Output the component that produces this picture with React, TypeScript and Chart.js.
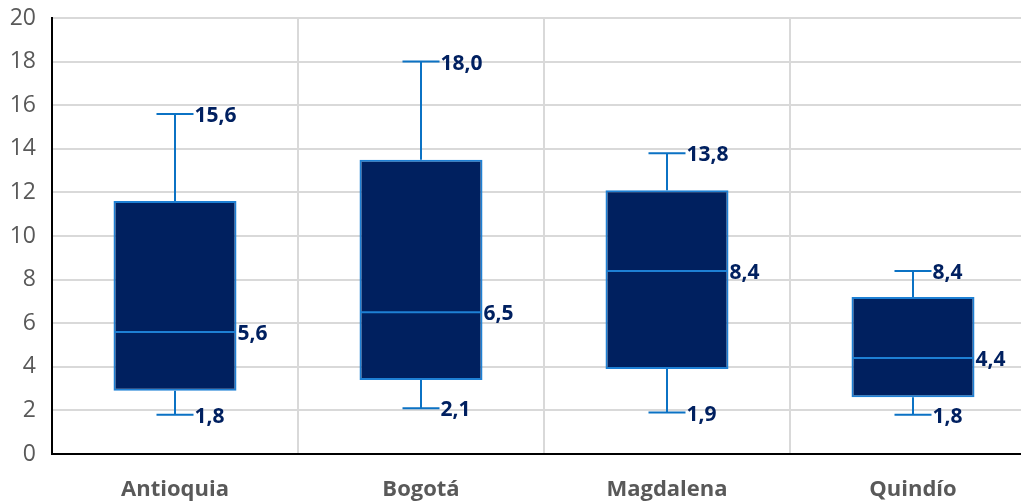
import React, { useEffect, useRef } from "react";
import { Chart, registerables } from "chart.js";

Chart.register(...registerables);

const categories = ["Antioquia", "Bogotá", "Magdalena", "Quindío"];
const minValues = [1.8, 2.1, 1.9, 1.8];
const q1Values = [2.9, 3.4, 3.9, 2.6];
const medianValues = [5.6, 6.5, 8.4, 4.4];
const q3Values = [11.6, 13.5, 12.1, 7.2];
const maxValues = [15.6, 18.0, 13.8, 8.4];
const yMin = 0;
const yMax = 20;
const yStep = 2;

const FONT = "'Open Sans', 'Noto Sans', sans-serif";
const BOX_FILL = "#00205F";
const BOX_BORDER = "#1E80D4";
const WHISKER = "#0B72C4";
const LABEL = "#002060";
const AXIS_TEXT = "#595959";

const fmt = (v: number) => v.toFixed(1).replace(".", ",");

const boxPlugin = {
  id: "boxWhiskers",
  afterDatasetsDraw(chart: any) {
    const ctx = chart.ctx;
    const x = chart.scales.x;
    const y = chart.scales.y;
    const meta = chart.getDatasetMeta(0);
    ctx.save();
    categories.forEach((_, i) => {
      const bar = meta.data[i];
      const cx = x.getPixelForValue(i);
      const half = bar.width / 2;
      const capHalf = 18.5;
      const yMaxP = y.getPixelForValue(maxValues[i]);
      const yMinP = y.getPixelForValue(minValues[i]);
      const yQ1 = y.getPixelForValue(q1Values[i]);
      const yQ3 = y.getPixelForValue(q3Values[i]);
      const yMed = y.getPixelForValue(medianValues[i]);
      ctx.strokeStyle = WHISKER;
      ctx.lineWidth = 2;
      ctx.beginPath();
      ctx.moveTo(cx, yQ3);
      ctx.lineTo(cx, yMaxP);
      ctx.moveTo(cx - capHalf, yMaxP);
      ctx.lineTo(cx + capHalf, yMaxP);
      ctx.moveTo(cx, yQ1);
      ctx.lineTo(cx, yMinP);
      ctx.moveTo(cx - capHalf, yMinP);
      ctx.lineTo(cx + capHalf, yMinP);
      ctx.stroke();
      ctx.strokeStyle = BOX_BORDER;
      ctx.beginPath();
      ctx.moveTo(cx - half + 1, yMed);
      ctx.lineTo(cx + half - 1, yMed);
      ctx.stroke();

      ctx.fillStyle = LABEL;
      ctx.font = `bold 21px ${FONT}`;
      ctx.textAlign = "left";
      ctx.textBaseline = "middle";
      ctx.fillText(fmt(maxValues[i]), cx + capHalf + 1, yMaxP + 2);
      ctx.fillText(fmt(minValues[i]), cx + capHalf + 1, yMinP + 2);
      ctx.fillText(fmt(medianValues[i]), cx + half + 1, yMed + 2);
    });
    ctx.restore();
  },
};

export default function App() {
  const ref = useRef<HTMLCanvasElement | null>(null);
  useEffect(() => {
    if (!ref.current) return;
    const chart = new Chart(ref.current, {
      type: "bar",
      data: {
        labels: categories,
        datasets: [
          {
            data: categories.map((_, i) => [q1Values[i], q3Values[i]]) as any,
            backgroundColor: BOX_FILL,
            borderColor: BOX_BORDER,
            borderWidth: 2,
            borderSkipped: false,
            barPercentage: 1,
            categoryPercentage: 0.5,
          },
        ],
      },
      options: {
        responsive: false,
        animation: false,
        devicePixelRatio: 1,
        layout: { padding: { left: 0, top: 18, right: 4, bottom: 0 } },
        plugins: { legend: { display: false }, tooltip: { enabled: false } },
        scales: {
          x: {
            afterFit: (s: any) => {
              s.height = 50;
              s.paddingLeft = 0;
              s.paddingRight = 0;
            },
            grid: { color: "#d9d9d9", lineWidth: 2, drawTicks: false, offset: true },
            border: { display: true, color: "#000000", width: 2 },
            ticks: {
              padding: 23,
              color: AXIS_TEXT,
              font: { family: FONT, size: 22, weight: "bold" },
            },
          },
          y: {
            min: yMin,
            max: yMax,
            afterFit: (s: any) => {
              s.width = 52;
              s.paddingTop = 0;
              s.paddingBottom = 0;
            },
            grid: { color: "#d9d9d9", lineWidth: 2, drawTicks: false },
            border: { display: true, color: "#000000", width: 2 },
            ticks: {
              stepSize: yStep,
              padding: 16,
              color: AXIS_TEXT,
              font: { family: FONT, size: 23 },
            },
          },
        },
      },
      plugins: [boxPlugin],
    } as any);
    return () => chart.destroy();
  }, []);
  return (
    <div
      style={{
        position: "fixed",
        left: 0,
        top: 0,
        width: 1021,
        height: 504,
        overflow: "hidden",
        background: "#ffffff",
      }}
    >
      <canvas ref={ref} width={1040} height={504} style={{ display: "block" }} />
    </div>
  );
}
